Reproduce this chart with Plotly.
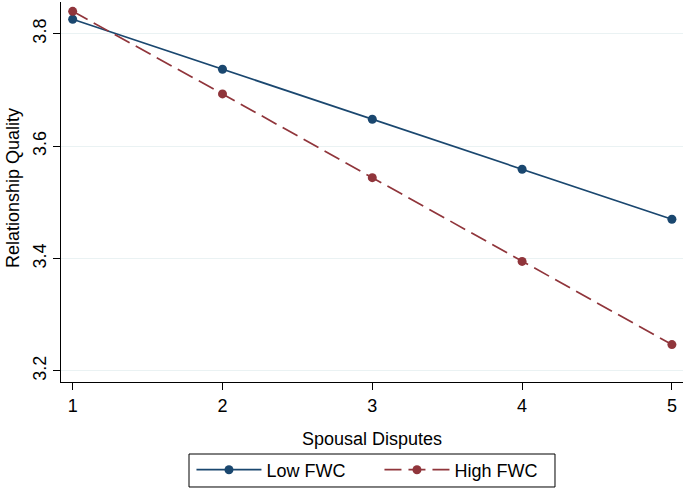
import plotly.graph_objects as go

disputes = [1, 2, 3, 4, 5]
low_fwc = [3.826, 3.737, 3.648, 3.559, 3.470]
high_fwc = [3.840, 3.693, 3.544, 3.395, 3.247]
y_ticks = [3.2, 3.4, 3.6, 3.8]
y_tick_labels = ["3.2", "3.4", "3.6", "3.8"]
x_ticks = [1, 2, 3, 4, 5]
x_title = "Spousal Disputes"
y_title = "Relationship Quality"

BLUE = "#1A476F"
RED = "#90353B"
FONT = "Liberation Sans, Arial, Helvetica, sans-serif"

fig = go.Figure()
fig.add_trace(go.Scatter(
    x=disputes, y=low_fwc, name="Low FWC", mode="lines+markers",
    line=dict(color=BLUE, width=1.7),
    marker=dict(color=BLUE, size=9),
))
fig.add_trace(go.Scatter(
    x=disputes, y=high_fwc, name="High FWC", mode="lines+markers",
    line=dict(color=RED, width=1.7, dash="17px,7px"),
    marker=dict(color=RED, size=9),
))

fig.update_layout(
    width=685, height=489,
    margin=dict(l=61, r=2, t=2, b=107, autoexpand=False),
    paper_bgcolor="white", plot_bgcolor="white",
    font=dict(family=FONT, size=18, color="black"),
    showlegend=True,
    legend=dict(
        orientation="h", x=0.512, xanchor="center", y=-0.2316, yanchor="middle",
        bgcolor="rgba(0,0,0,0)", borderwidth=0, entrywidth=108, itemwidth=65,
        font=dict(size=18),
    ),
    xaxis=dict(
        range=[0.922, 5.074], tickvals=x_ticks,
        ticks="outside", ticklen=7, tickcolor="black",
        tickfont=dict(size=18),
        showline=True, linecolor="black", linewidth=1,
        showgrid=False, zeroline=False, automargin=False,
    ),
    yaxis=dict(
        range=[3.1804, 3.8566], tickvals=y_ticks, ticktext=y_tick_labels,
        tickangle=-90, tickfont=dict(size=18),
        ticks="outside", ticklen=7, tickcolor="black",
        showline=True, linecolor="black", linewidth=1,
        showgrid=True, gridcolor="#EAF2F3", gridwidth=1, zeroline=False,
        automargin=False,
    ),
    shapes=[
        dict(type="rect", xref="paper", yref="paper",
             x0=0.2058, x1=0.7942, y0=-0.2763, y1=-0.1895,
             line=dict(color="black", width=1), fillcolor="rgba(0,0,0,0)"),
    ],
    annotations=[
        dict(text=x_title, xref="paper", yref="paper", x=0.5, y=-0.1505,
             xanchor="center", yanchor="middle", showarrow=False,
             font=dict(size=18)),
        dict(text=y_title, xref="paper", yref="paper", x=-0.0775, y=0.51,
             xanchor="center", yanchor="middle", showarrow=False,
             textangle=-90, font=dict(size=18)),
    ],
)

fig.write_html("out.html", config={"displayModeBar": False},
               post_script="document.body.style.margin='0';")
